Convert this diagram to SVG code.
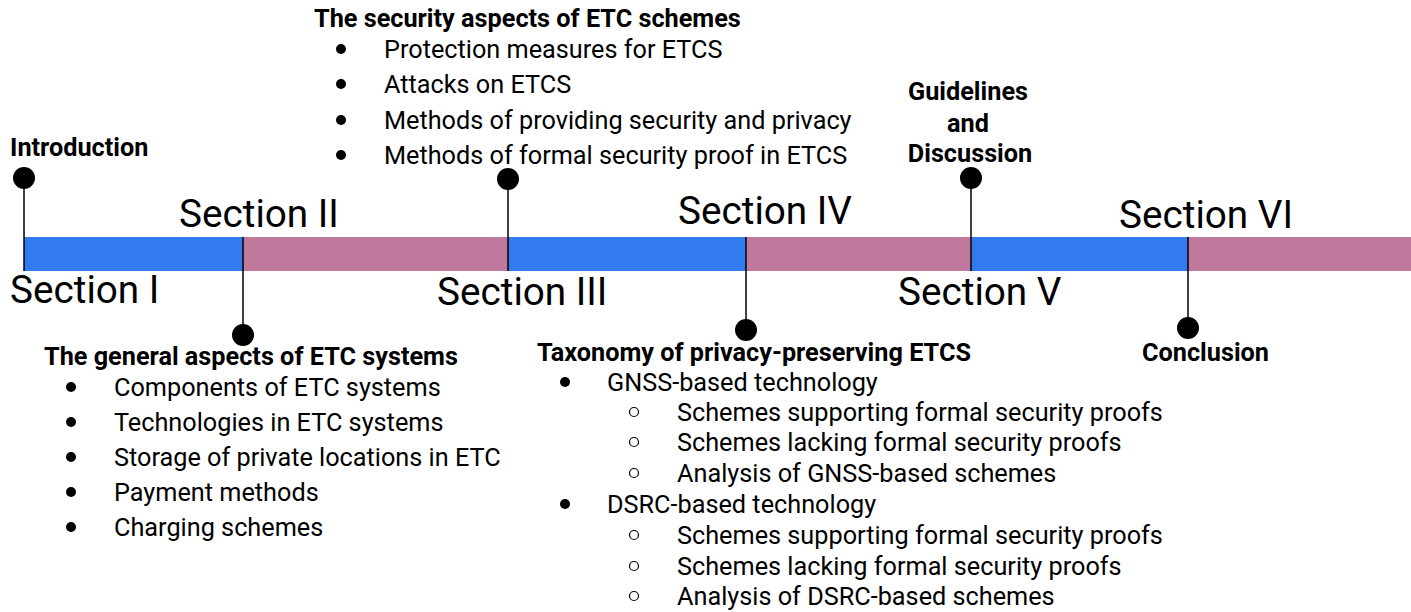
<svg xmlns="http://www.w3.org/2000/svg" width="1411" height="612" viewBox="0 0 1411 612">
<style>
text{font-family:Roboto,"Liberation Sans",sans-serif;fill:#000}
.b{font-weight:bold;font-size:25.25px}
.r{font-size:25.25px}
.s{font-size:38.7px}
.blue{fill:#327AEF}
.pink{fill:#C0799D}
.ln{stroke:#000;stroke-width:1.5}
.dot{fill:#000}
.hol{fill:none;stroke:#000;stroke-width:1.2}
</style>
<rect width="1411" height="612" fill="#fff"/>
<g id="bar">
<rect class="blue" x="24" y="237" width="219" height="34"/>
<rect class="pink" x="243" y="237" width="265" height="34"/>
<rect class="blue" x="508" y="237" width="238" height="34"/>
<rect class="pink" x="746" y="237" width="225" height="34"/>
<rect class="blue" x="971" y="237" width="217" height="34"/>
<rect class="pink" x="1188" y="237" width="223" height="34"/>
</g>
<g id="connectors">
<line class="ln" x1="24" y1="178" x2="24" y2="271"/>
<line class="ln" x1="243" y1="237" x2="243" y2="335"/>
<line class="ln" x1="508" y1="179" x2="508" y2="271"/>
<line class="ln" x1="746" y1="237" x2="746" y2="330"/>
<line class="ln" x1="971" y1="178" x2="971" y2="271"/>
<line class="ln" x1="1188" y1="237" x2="1188" y2="328"/>
<circle class="dot" cx="24" cy="178" r="11"/>
<circle class="dot" cx="243" cy="335" r="11"/>
<circle class="dot" cx="508" cy="179" r="11"/>
<circle class="dot" cx="746" cy="330" r="11"/>
<circle class="dot" cx="971" cy="178" r="11"/>
<circle class="dot" cx="1188" cy="328" r="11"/>
</g>
<g id="labels">
<text class="s" x="10" y="303">Section I</text>
<text class="s" x="179" y="227">Section II</text>
<text class="s" x="437" y="305">Section III</text>
<text class="s" x="678" y="224">Section IV</text>
<text class="s" x="898" y="305">Section V</text>
<text class="s" x="1119" y="228">Section VI</text>
</g>
<g id="intro">
<text class="b" x="10" y="156">Introduction</text>
</g>
<g id="sec2">
<text class="b" x="44" y="365">The general aspects of ETC systems</text>
<circle class="dot" cx="71" cy="387" r="5"/><text class="r" x="114" y="396">Components of ETC systems</text>
<circle class="dot" cx="71" cy="422" r="5"/><text class="r" x="114" y="431">Technologies in ETC systems</text>
<circle class="dot" cx="71" cy="457" r="5"/><text class="r" x="114" y="466">Storage of private locations in ETC</text>
<circle class="dot" cx="71" cy="492" r="5"/><text class="r" x="114" y="501">Payment methods</text>
<circle class="dot" cx="71" cy="527" r="5"/><text class="r" x="114" y="536">Charging schemes</text>
</g>
<g id="sec3">
<text class="b" x="314" y="27">The security aspects of ETC schemes</text>
<circle class="dot" cx="341" cy="49" r="5"/><text class="r" x="384" y="58">Protection measures for ETCS</text>
<circle class="dot" cx="341" cy="84" r="5"/><text class="r" x="384" y="93">Attacks on ETCS</text>
<circle class="dot" cx="341" cy="120" r="5"/><text class="r" x="384" y="129">Methods of providing security and privacy</text>
<circle class="dot" cx="341" cy="155" r="5"/><text class="r" x="384" y="164">Methods of formal security proof in ETCS</text>
</g>
<g id="sec4">
<text class="b" x="537" y="361">Taxonomy of privacy-preserving ETCS</text>
<circle class="dot" cx="565" cy="382" r="5"/><text class="r" x="607" y="391">GNSS-based technology</text>
<circle class="hol" cx="634" cy="412" r="4.5"/><text class="r" x="677" y="421">Schemes supporting formal security proofs</text>
<circle class="hol" cx="634" cy="442" r="4.5"/><text class="r" x="677" y="451">Schemes lacking formal security proofs</text>
<circle class="hol" cx="634" cy="473" r="4.5"/><text class="r" x="677" y="482">Analysis of GNSS-based schemes</text>
<circle class="dot" cx="565" cy="504" r="5"/><text class="r" x="607" y="513">DSRC-based technology</text>
<circle class="hol" cx="634" cy="535" r="4.5"/><text class="r" x="677" y="544">Schemes supporting formal security proofs</text>
<circle class="hol" cx="634" cy="566" r="4.5"/><text class="r" x="677" y="575">Schemes lacking formal security proofs</text>
<circle class="hol" cx="634" cy="596" r="4.5"/><text class="r" x="677" y="605">Analysis of DSRC-based schemes</text>
</g>
<g id="sec5">
<text class="b" x="968" y="100" text-anchor="middle">Guidelines</text>
<text class="b" x="968" y="132" text-anchor="middle">and</text>
<text class="b" x="970" y="162" text-anchor="middle">Discussion</text>
</g>
<g id="sec6">
<text class="b" x="1142" y="361">Conclusion</text>
</g>
</svg>
